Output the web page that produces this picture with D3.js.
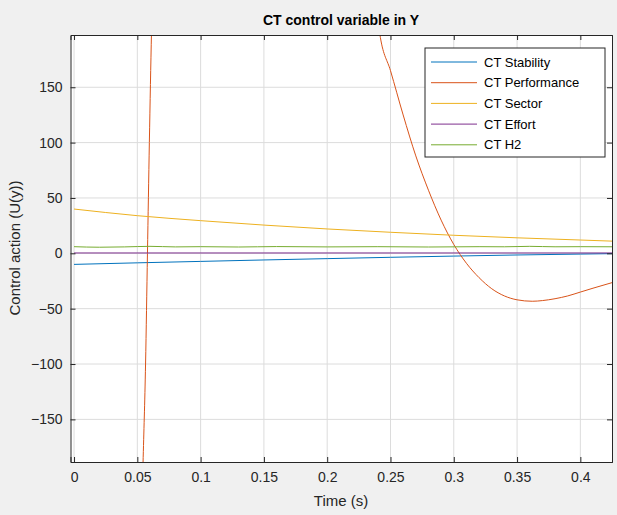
<!DOCTYPE html><html><head><meta charset="utf-8"><script src="https://cdn.jsdelivr.net/npm/d3@7"></script>
<style>body{margin:0;background:#f0f0f0;font-family:"Liberation Sans",Arial,sans-serif}</style></head><body><svg id="c" width="617" height="515"></svg>
<script>
const xTicks=[0,0.05,0.1,0.15,0.2,0.25,0.3,0.35,0.4];
const yTicks=[-150,-100,-50,0,50,100,150];
const seriesNames=["CT Stability","CT Performance","CT Sector","CT Effort","CT H2"];
const colors=["#0072BD","#D95319","#EDB120","#7E2F8E","#77AC30"];
const stability=[[0,-10],[0.05,-8.6],[0.1,-7.3],[0.15,-6],[0.2,-4.8],[0.25,-3.6],[0.3,-2.5],[0.35,-1.5],[0.4,-0.7],[0.425,-0.3]];
const performance=[[0.053,-260],[0.0545,-190],[0.0565,-100],[0.058,0],[0.0595,100],[0.0612,200],[0.065,330],[0.23,330],[0.242,195],[0.25,165],[0.26,125],[0.27,88],[0.28,57],[0.29,30],[0.30,8],[0.31,-9],[0.32,-22],[0.33,-32],[0.34,-38.5],[0.35,-42],[0.362,-43.3],[0.37,-42.7],[0.38,-41],[0.39,-38.5],[0.40,-35],[0.41,-31.5],[0.425,-26.5]];
const sector=[[0,40],[0.05,34],[0.1,29.5],[0.15,25.5],[0.2,22],[0.25,19],[0.3,16.3],[0.35,14],[0.4,12],[0.425,11]];
const effort=[[0,0.3],[0.425,0.3]];
const h2=[[0,6],[0.02,5.5],[0.04,5.8],[0.06,6.3],[0.08,5.8],[0.1,6],[0.13,5.7],[0.16,6.1],[0.2,5.8],[0.24,6],[0.28,5.7],[0.32,6],[0.34,5.9],[0.36,6.3],[0.38,5.9],[0.4,6],[0.425,5.9]];
const allSeries=[stability,performance,sector,effort,h2];

const svg=d3.select("#c");
const L=70.5,R=612,T=35,B=462;
const x=d3.scaleLinear().domain([-0.0028,0.425]).range([L,R]);
const y=d3.scaleLinear().domain([-188.5,197.2]).range([B,T]);
svg.append("rect").attr("x",L).attr("y",T).attr("width",R-L).attr("height",B-T).attr("fill","#fff");
const g=svg.append("g");
xTicks.forEach(t=>g.append("line").attr("x1",x(t)).attr("x2",x(t)).attr("y1",T).attr("y2",B).attr("stroke","#dcdcdc"));
yTicks.forEach(t=>g.append("line").attr("y1",y(t)).attr("y2",y(t)).attr("x1",L).attr("x2",R).attr("stroke","#dcdcdc"));
svg.append("clipPath").attr("id","cp").append("rect").attr("x",L).attr("y",T).attr("width",R-L).attr("height",B-T);
const line=d3.line().x(d=>x(d[0])).y(d=>y(d[1])).curve(d3.curveMonotoneX);
allSeries.forEach((s,i)=>svg.append("path").attr("d",line(s)).attr("fill","none").attr("stroke",colors[i]).attr("stroke-width",1).attr("clip-path","url(#cp)"));
const xa=svg.append("g").attr("transform",`translate(0,${B})`).call(d3.axisBottom(x).tickValues(xTicks).tickSize(-5).tickPadding(10).tickFormat(d3.format("")));
const ya=svg.append("g").attr("transform",`translate(${L},0)`).call(d3.axisLeft(y).tickValues(yTicks).tickSize(-5).tickPadding(8));
svg.append("g").attr("transform",`translate(0,${T})`).call(d3.axisTop(x).tickValues(xTicks).tickSize(-5).tickFormat(""));
svg.append("g").attr("transform",`translate(${R},0)`).call(d3.axisRight(y).tickValues(yTicks).tickSize(-5).tickFormat(""));
svg.selectAll(".domain").attr("stroke","#262626");
svg.selectAll(".tick line").attr("stroke","#262626");
svg.selectAll(".tick text").attr("font-size",14).attr("fill","#262626").attr("font-family","Liberation Sans, Arial");
svg.append("text").attr("x",341).attr("y",25).attr("text-anchor","middle").attr("font-weight","bold").attr("font-size",14).attr("fill","#000").text("CT control variable in Y");
svg.append("text").attr("x",341).attr("y",506).attr("text-anchor","middle").attr("font-size",15).attr("fill","#262626").text("Time (s)");
svg.append("text").attr("transform","translate(20,248) rotate(-90)").attr("text-anchor","middle").attr("font-size",15).attr("fill","#262626").text("Control action (U(y))");
const lg=svg.append("g").attr("transform","translate(425,48)");
lg.append("rect").attr("width",180).attr("height",109).attr("fill","#fff").attr("stroke","#262626");
seriesNames.forEach((n,i)=>{const yy=14+i*20.7;
lg.append("line").attr("x1",6).attr("x2",52).attr("y1",yy).attr("y2",yy).attr("stroke",colors[i]);
lg.append("text").attr("x",59).attr("y",yy+4.5).attr("font-size",13).attr("fill","#000").text(n);});
</script></body></html>
